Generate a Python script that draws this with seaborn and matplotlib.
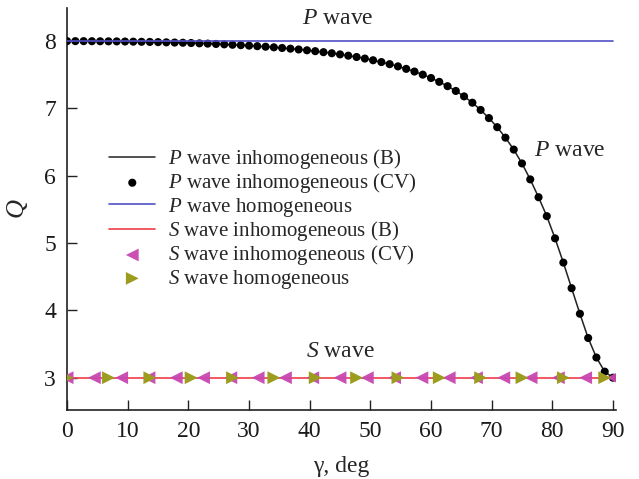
import matplotlib
matplotlib.use("Agg")
import matplotlib.pyplot as plt
import seaborn as sns

# ---- data ----
gamma_cv = [0.00, 1.36, 2.73, 4.09, 5.45, 6.82, 8.18, 9.55, 10.91, 12.27, 13.64,
            15.00, 16.36, 17.73, 19.09, 20.45, 21.82, 23.18, 24.55, 25.91, 27.27,
            28.64, 30.00, 31.36, 32.73, 34.09, 35.45, 36.82, 38.18, 39.55, 40.91,
            42.27, 43.64, 45.00, 46.36, 47.73, 49.09, 50.45, 51.82, 53.18, 54.55,
            55.91, 57.27, 58.64, 60.00, 61.36, 62.73, 64.09, 65.45, 66.82, 68.18,
            69.55, 70.91, 72.27, 73.64, 75.00, 76.36, 77.73, 79.09, 80.45, 81.82,
            83.18, 84.55, 85.91, 87.27, 88.64, 90.00]
q_p_inhom = [8.000, 8.000, 8.000, 7.999, 7.998, 7.997, 7.996, 7.994, 7.992, 7.990, 7.988,
             7.985, 7.982, 7.979, 7.976, 7.972, 7.967, 7.963, 7.958, 7.952, 7.946,
             7.940, 7.933, 7.925, 7.917, 7.908, 7.898, 7.888, 7.876, 7.864, 7.851,
             7.836, 7.820, 7.803, 7.784, 7.764, 7.741, 7.716, 7.689, 7.658, 7.625,
             7.588, 7.548, 7.502, 7.452, 7.395, 7.331, 7.260, 7.179, 7.085, 6.978,
             6.857, 6.722, 6.566, 6.389, 6.183, 5.946, 5.681, 5.400, 5.070, 4.710,
             4.330, 3.950, 3.590, 3.300, 3.090, 3.000]

gamma_line = [0, 90]
q_p_hom = [8, 8]
q_s_inhom_b = [3, 3]

gamma_s_cv = [0, 4.5, 9, 13.5, 18, 22.5, 27, 31.5, 36, 40.5, 45, 49.5, 54, 58.5,
              63, 67.5, 72, 76.5, 81, 85.5, 90]
q_s_cv = [3] * 21

gamma_s_hom = [0.00, 6.82, 13.64, 20.45, 27.27, 34.09, 40.91, 47.73, 54.55,
               61.36, 68.18, 75.00, 81.82, 88.64]
q_s_hom = [3] * 14

x_ticks = [0, 10, 20, 30, 40, 50, 60, 70, 80, 90]
y_ticks = [3, 4, 5, 6, 7, 8]

sns.set_style("ticks")
plt.rcParams["font.family"] = ["Liberation Serif", "DejaVu Serif"]
plt.rcParams["mathtext.fontset"] = "custom"
plt.rcParams["mathtext.it"] = "Liberation Serif:italic"
plt.rcParams["mathtext.rm"] = "Liberation Serif"

fig = plt.figure(figsize=(6.39, 4.79), dpi=100)
ax = fig.add_axes([0.105, 0.144, 0.859, 0.839])

sns.lineplot(x=gamma_cv, y=q_p_inhom, ax=ax, color="#222222", lw=1.1,
             label="$P$ wave inhomogeneous (B)", zorder=2)
sns.scatterplot(x=gamma_cv, y=q_p_inhom, ax=ax, color="black", s=34,
                edgecolor="none", label="$P$ wave inhomogeneous (CV)", zorder=3)
sns.lineplot(x=gamma_line, y=q_p_hom, ax=ax, color="#5050c8", lw=1.2,
             label="$P$ wave homogeneous", zorder=4)
sns.lineplot(x=gamma_line, y=q_s_inhom_b, ax=ax, color="#f03c46", lw=1.2,
             label="$S$ wave inhomogeneous (B)", zorder=4)
sns.scatterplot(x=gamma_s_cv, y=q_s_cv, ax=ax, color="#c846b0", marker="<", s=85,
                edgecolor="none", label="$S$ wave inhomogeneous (CV)", zorder=5, alpha=0.95)
sns.scatterplot(x=gamma_s_hom, y=q_s_hom, ax=ax, color="#9c9c1e", marker=">", s=85,
                edgecolor="none", label="$S$ wave homogeneous", zorder=6)

ax.set_xlim(0, 90.5)
ax.set_ylim(2.52, 8.49)
ax.set_xticks(x_ticks)
ax.set_yticks(y_ticks)
ax.tick_params(direction="in", length=7, width=1, labelsize=17, colors="#222222",
               labelcolor="#1a1a1a", pad=8)
for side in ["top", "right"]:
    ax.spines[side].set_visible(False)
for side in ["left", "bottom"]:
    ax.spines[side].set_linewidth(1.2)
    ax.spines[side].set_color("#222222")

ax.set_xlabel("γ, deg", fontsize=17, labelpad=10)
ax.set_ylabel("$Q$", fontsize=19, labelpad=10)

ax.text(44.7, 8.34, "$P$ wave", fontsize=17, ha="center", va="center")
ax.text(82.8, 6.38, "$P$ wave", fontsize=17, ha="center", va="center")
ax.text(45.0, 3.39, "$S$ wave", fontsize=17, ha="center", va="center")

ax.legend(loc="upper left", bbox_to_anchor=(0.077, 0.655), frameon=False,
          fontsize=15, borderpad=0, borderaxespad=0, handlelength=2.2,
          handletextpad=0.6, labelspacing=0.02)

fig.savefig("out.png", dpi=100)
